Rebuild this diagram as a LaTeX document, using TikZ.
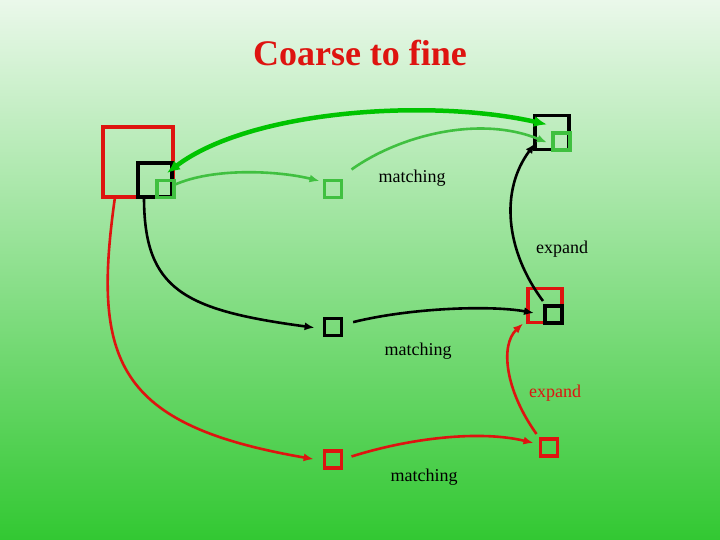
\documentclass[tikz,border=0pt]{standalone}
\usepackage{fontspec}
\setmainfont{Liberation Serif}
\usetikzlibrary{arrows.meta}
\definecolor{slidered}{RGB}{222,20,16}
\definecolor{lightgrn}{RGB}{64,192,64}
\definecolor{brightgrn}{RGB}{0,196,0}
\definecolor{bgtop}{RGB}{234,248,234}
\definecolor{bgbot}{RGB}{50,200,50}

\begin{document}
\begin{tikzpicture}[x=1pt, y=-1pt,
  box/.style={draw, line width=3.2pt, inner sep=0pt, outer sep=0pt, minimum size=#1},
  lbl/.style={font=\fontsize{18}{20}\selectfont, inner sep=0pt},
  link/.style={line width=2.6pt, -{Latex[length=10pt,width=8pt]}}]
\useasboundingbox (0,0) rectangle (720,540);
\shade[top color=bgtop, bottom color=bgbot] (0,0) rectangle (720,540);

\node[font=\fontsize{36}{40}\selectfont\bfseries, text=slidered] (title) at (360,53) {Coarse to fine};

% coarse level
\node[box=70pt, slidered] (bigred) at (138,162) {};
\node[box=34pt] (blk1) at (155,180) {};
\node[box=17pt, lightgrn] (g1) at (165.5,189) {};
\node[box=17pt, lightgrn] (g2) at (333,189) {};
\node[box=34pt] (blk2) at (552,132.5) {};
\node[box=17pt, lightgrn] (g3) at (561.5,141.5) {};
% middle level
\node[box=17pt] (b3) at (333,327) {};
\node[box=34pt, slidered] (red2) at (545,305.5) {};
\node[box=17pt] (blk4) at (553.5,314.5) {};
% fine level
\node[box=17pt, slidered] (r3) at (333,459.5) {};
\node[box=17pt, slidered] (r4) at (549,447.5) {};

\node[lbl] (m1) at (412,178) {matching};
\node[lbl] (e1) at (562,249) {expand};
\node[lbl] (m2) at (418,351) {matching};
\node[lbl, text=slidered] (e2) at (555,393) {expand};
\node[lbl] (m3) at (424,477) {matching};

% green arrows
\draw[link, lightgrn] ([yshift=4pt]g1.east) .. controls +(40,-18) and +(-40,-10) .. ([xshift=-5pt,yshift=8pt]g2.west);
\draw[line width=4.5pt, brightgrn, {Latex[length=13pt,width=11pt]}-{Latex[length=13pt,width=11pt]}]
  ([xshift=-5pt,yshift=-10pt]blk1.north east) .. controls (250,110) and (430,98) .. ([xshift=12pt,yshift=8pt]blk2.west);
\draw[link, lightgrn] ([xshift=10pt,yshift=11pt]g2.north east) .. controls (400,135) and (480,115) .. ([xshift=12pt,yshift=-10pt]blk2.west);
% black arrows
\draw[link] ([xshift=-2pt,yshift=5pt]blk4.north west) .. controls (505,250) and (500,190) .. ([yshift=-11pt]blk2.west);
\draw[link, shorten >=10pt] ([xshift=6pt]blk1.south west) .. controls +(0,92) and +(-142,-19) .. ([yshift=-2pt]b3.west);
\draw[link, shorten <=12pt] ([yshift=2pt]b3.east) .. controls (410,308) and (490,305) .. ([xshift=6pt,yshift=-7.5pt]red2.west);
% red arrows
\draw[link, slidered] ([xshift=-4pt,yshift=5pt]r4.north west) .. controls (505,390) and (500,345) .. ([xshift=-5pt,yshift=-1pt]red2.south west);
\draw[link, slidered] ([xshift=10pt,yshift=3pt]r3.east) .. controls (410,438) and (480,430) .. ([xshift=-7pt,yshift=4.5pt]r4.west);
\draw[link, slidered, shorten >=11pt] ([xshift=12pt]bigred.south west) .. controls (92,360) and (115,425) .. ([yshift=-1.5pt]r3.west);
\end{tikzpicture}
\end{document}
